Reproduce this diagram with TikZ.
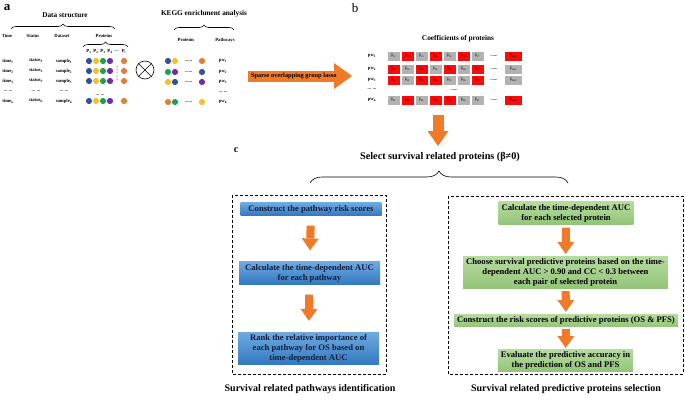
\documentclass[tikz,border=0pt]{standalone}
\usepackage{fontspec}
\setmainfont{Liberation Serif}
\usetikzlibrary{arrows.meta,decorations.pathreplacing,positioning}
\definecolor{dblue}{RGB}{47,85,151}
\definecolor{dyell}{RGB}{242,193,46}
\definecolor{dgreen}{RGB}{30,160,85}
\definecolor{dpurp}{RGB}{112,48,160}
\definecolor{dorng}{RGB}{230,125,55}
\definecolor{arrorng}{RGB}{240,122,40}
\definecolor{cellred}{RGB}{250,10,10}
\definecolor{cellgray}{RGB}{178,178,178}
\definecolor{bluetop}{RGB}{112,170,224}
\definecolor{bluebot}{RGB}{50,120,192}
\definecolor{greentop}{RGB}{184,219,160}
\definecolor{greenbot}{RGB}{146,196,120}
\definecolor{navytxt}{RGB}{20,30,60}
\begin{document}
\begin{tikzpicture}[x=1pt,y=-1pt,
    every node/.style={inner sep=0pt},
    tiny/.style={font=\fontsize{4.7}{5}\selectfont\bfseries},
    ttl/.style={font=\fontsize{7.3}{8}\selectfont\bfseries},
    dot/.style={circle,minimum size=6.2pt},
    brc/.style={decorate,decoration={brace,amplitude=5pt},semithick},
    cell/.style={minimum width=12pt,minimum height=9pt,font=\fontsize{3.8}{4}\selectfont},
    fatH/.style={draw=arrorng,line width=11pt,-{Triangle[width=26pt,length=18pt,line width=0pt]}},
    fatV/.style={draw=arrorng,line width=11pt,-{Triangle[width=21pt,length=15pt,line width=0pt]}},
    fat/.style={draw=arrorng,line width=8pt,-{Triangle[width=17pt,length=12pt,line width=0pt]}},
    frame/.style={draw,line width=1pt,dash pattern=on 3pt off 2pt},
    bluebox/.style={top color=bluetop,bottom color=bluebot,minimum width=141pt,inner ysep=2.5pt,align=center,
      text=navytxt,font=\fontsize{8.6}{10}\selectfont\bfseries},
    greenbox/.style={top color=greentop,bottom color=greenbot,inner xsep=3pt,inner ysep=2.5pt,align=center,
      font=\fontsize{8.6}{10}\selectfont\bfseries},
    big/.style={font=\fontsize{10}{12}\selectfont\bfseries}]
\useasboundingbox (0,0) rectangle (685,402);
% a
\node[font=\fontsize{13}{13}\selectfont\bfseries] (la) at (7,8) {a};
\node[ttl] (ds) at (65,15) {Data structure};
\draw[brc] (11,29) -- (115,29);
\foreach \t/\x in {Time/7,Status/33,Dataset/62}\node[tiny] at (\x,36) {\t};
\node[tiny] (prot) at (104,36) {Proteins};
\draw[brc] (83,47) -- (128,47);
\foreach \t/\x in {1/89,2/96,3/103,4/110,i/124}\node[tiny] at (\x,51) {P\textsubscript{\t}};
\node[tiny] at (117,51) {...};
\foreach \r/\y in {1/61,2/71,3/81,n/101}{
    \node[tiny] at (8,\y) {time\textsubscript{\r}};
    \node[tiny] at (36,\y) {status\textsubscript{\r}};
    \node[tiny] at (64,\y) {sample\textsubscript{\r}};
    \foreach \c/\x in {dblue/89,dyell/96,dgreen/103,dpurp/110,dorng/124}
        \node[dot,fill=\c] (p\r-\x) at (\x,\y) {};
}
\foreach \x in {8,36,64}\node[tiny] at (\x,91) {... ...};
\foreach \y in {66,69,72,76,79}\fill (117,\y) circle (0.5);
\node[tiny] at (100,95) {... ...};
\node[circle,draw,semithick,minimum size=18pt] (ox) at (145,70) {};
\draw[semithick] (ox.north west) -- (ox.south east) (ox.north east) -- (ox.south west);
\node[ttl] (kegg) at (204,14) {KEGG enrichment analysis};
\draw[brc] (174,30) -- (234,30);
\node[tiny] at (186,40) {Proteins};
\node[tiny] at (225,40) {Pathways};
\foreach \r/\y/\ca/\cb/\cc in {1/61/dblue/dyell/dorng,2/72/dgreen/dpurp/dblue,3/82/dyell/dblue/dpurp,k/102/dorng/dgreen/dyell}{
    \node[dot,fill=\ca] (k\r a) at (168,\y) {};
    \node[dot,fill=\cb] (k\r b) at (175,\y) {};
    \node[tiny] at (188.5,\y) {...\,...};
    \node[dot,fill=\cc] (k\r c) at (202,\y) {};
    \node[tiny] (pw\r) at (223,\y) {pw\textsubscript{\r}};
}
\node[tiny] at (223,92) {... ...};
\coordinate (lassoA) at (248,76);
\coordinate (lassoB) at (352,76);
\draw[fatH] (lassoA) -- node[pos=0.44,font=\fontsize{6.4}{7}\selectfont\bfseries] {Sparse overlapping group lasso} (lassoB);
% b
\node[font=\fontsize{13}{13}\selectfont] (lb) at (355,8) {b};
\node[ttl] (coef) at (458,39) {Coefficients of proteins};
\foreach \r/\y/\cols/\clast in {
    1/56/{cellgray,cellred,cellgray,cellred,cellgray,cellred,cellgray}/cellred,
    2/69/{cellred,cellgray,cellred,cellgray,cellred,cellgray,cellred}/cellgray,
    3/80/{cellred,cellgray,cellred,cellred,cellgray,cellgray,cellred}/cellgray,
    k/100/{cellgray,cellred,cellgray,cellred,cellred,cellgray,cellgray}/cellred}{
    \node[tiny] (row\r) at (372,\y) {pw\textsubscript{\r}};
    \foreach \c [count=\j] in \cols
        \node[cell,fill=\c] (b\r\j) at (379.5+14*\j,\y) {β\textsubscript{\r\j}};
    \node[tiny] at (494,\y) {......};
    \node[cell,fill=\clast,minimum width=17pt] (b\r m) at (513.5,\y) {β\textsubscript{\r m\r}};
}
\node[tiny] at (372,89) {... ...};
\node[tiny] at (454,90) {......};
% c
\node[font=\fontsize{10}{10}\selectfont\bfseries] (lc) at (236,150) {c};
\node[font=\fontsize{10.2}{11}\selectfont\bfseries] (sel) at (440,157) {Select survival related proteins (β≠0)};
\coordinate (dn) at (438,115);
\draw[fatV] (dn) -- (438,146);
\draw[decorate,decoration={brace,amplitude=12pt},semithick] (310,183) -- (568,183);
\draw[frame] (232,195) rectangle (386,374);
\draw[frame] (448,196) rectangle (683,374);
\node[bluebox] (s1) at (311,209) {Construct the pathway risk scores};
\node[bluebox] (s2) at (309.5,273) {Calculate the time-dependent AUC\\for each pathway};
\node[bluebox] (s3) at (308.5,348.5) {Rank the relative importance of\\each pathway for OS based on\\time-dependent AUC};
\draw[fat,shorten <=10pt,shorten >=11pt] (s1) -- (s2);
\draw[fat,shorten <=10pt,shorten >=11pt] (s2) -- (s3);
\node[greenbox] (g1) at (566,213) {Calculate the time-dependent AUC\\for each selected protein};
\node[greenbox] (g2) at (565.5,272.5) {Choose survival predictive proteins based on the time-\\dependent AUC > 0.90 and CC < 0.3 between\\each pair of selected protein};
\node[greenbox] (g3) at (566,320.5) {Construct the risk scores of predictive proteins (OS \& PFS)};
\node[greenbox] (g4) at (565.5,360.5) {Evaluate the predictive accuracy in\\the prediction of OS and PFS};
\draw[fat,shorten <=3pt,shorten >=2pt] (g1) -- (g2);
\draw[fat,shorten <=2pt,shorten >=2pt] (g2) -- (g3);
\draw[fat,shorten <=2pt,shorten >=1pt] (g3) -- (g4);
\node[big] (lpath) at (310,389) {Survival related pathways identification};
\node[big] (lprot) at (566,389) {Survival related predictive proteins selection};
\end{tikzpicture}
\end{document}
